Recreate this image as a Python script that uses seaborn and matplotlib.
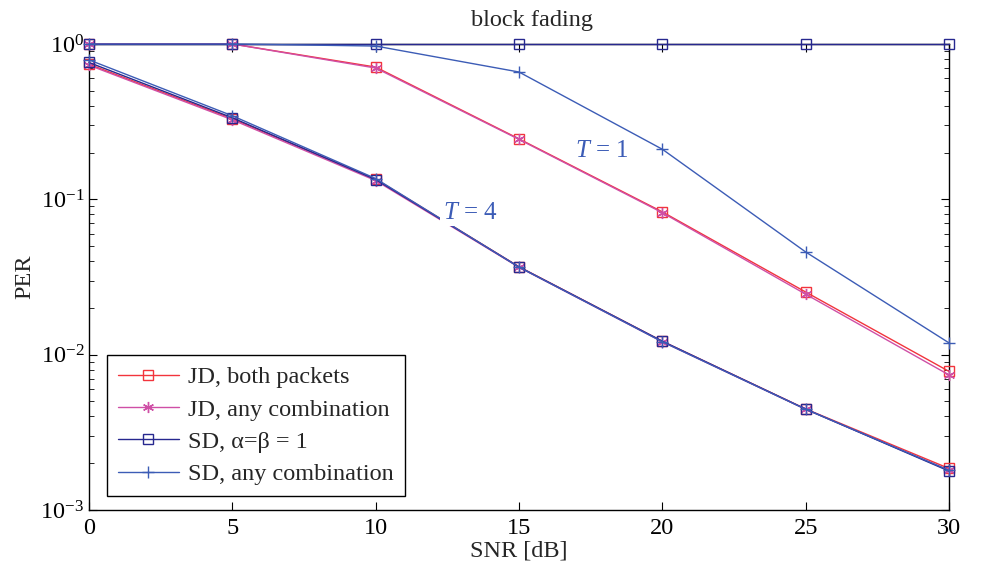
import numpy as np
import pandas as pd
import matplotlib
matplotlib.use("Agg")
import matplotlib.pyplot as plt
import seaborn as sns

# SNR axis
snr = [0, 5, 10, 15, 20, 25, 30]

# T = 1
jd_both_t1 = [1.0, 1.0, 0.71, 0.245, 0.083, 0.0253, 0.0078]
jd_any_t1 = [1.0, 1.0, 0.70, 0.243, 0.082, 0.0245, 0.0074]
sd_ab_t1 = [1.0, 1.0, 1.0, 1.0, 1.0, 1.0, 1.0]
sd_any_t1 = [1.0, 1.0, 0.97, 0.66, 0.21, 0.0458, 0.0119]

# T = 4
jd_both_t4 = [0.74, 0.33, 0.135, 0.0368, 0.0122, 0.00447, 0.00185]
jd_any_t4 = [0.73, 0.325, 0.132, 0.0365, 0.0121, 0.00445, 0.00180]
sd_ab_t4 = [0.76, 0.335, 0.134, 0.0367, 0.0122, 0.00446, 0.00178]
sd_any_t4 = [0.79, 0.345, 0.136, 0.0366, 0.0121, 0.00445, 0.00180]

sns.set_style("ticks")
plt.rcParams['font.family'] = ['Liberation Serif', 'DejaVu Serif']
plt.rcParams['mathtext.fontset'] = 'custom'
plt.rcParams['mathtext.rm'] = 'Liberation Serif'
plt.rcParams['mathtext.it'] = 'Liberation Serif:italic'
plt.rcParams['xtick.direction'] = 'in'
plt.rcParams['ytick.direction'] = 'in'

fig = plt.figure(figsize=(9.89, 5.69), dpi=100)
ax = fig.add_axes([0.09, 0.1037, 0.8696, 0.819])

series = [
    ("JD, both packets", jd_both_t1, jd_both_t4, "#f2343c", "s", 7),
    ("JD, any combination", jd_any_t1, jd_any_t4, "#cf4fa6", (6, 2, 0), 8),
    ("SD, α=β = 1", sd_ab_t1, sd_ab_t4, "#27288f", "s", 7),
    ("SD, any combination", sd_any_t1, sd_any_t4, "#3c5cb6", "+", 9),
]

for name, v1, v4, col, mk, ms in series:
    for vals, lab in ((v1, name), (v4, None)):
        df = pd.DataFrame({"SNR": snr, "PER": vals})
        sns.lineplot(data=df, x="SNR", y="PER", ax=ax, color=col, marker=mk,
                     markersize=ms, markerfacecolor="none",
                     markeredgecolor=col, markeredgewidth=1.0, linewidth=1.0,
                     label=lab, legend=False, clip_on=False, zorder=3)

ax.set_yscale("log")
ax.set_xlim(0, 30)
ax.set_ylim(1e-3, 1e0)
ax.set_xticks(snr)
ax.tick_params(which="both", top=True, right=True, labelsize=17.5, colors="black")
ax.tick_params(axis="x", pad=6)
ax.tick_params(which="major", length=6)
ax.tick_params(which="minor", length=3.5)
for sp in ax.spines.values():
    sp.set_color("black")
    sp.set_linewidth(1.0)

ax.set_xlabel("SNR [dB]", fontsize=17.5, labelpad=1)
ax.set_ylabel("PER", fontsize=17.5, labelpad=4)
ax.set_title("block fading", fontsize=17.5, pad=13, x=0.515)

ax.text(13.3, 0.082, "$T$ = 4", color="#3c5cb6", fontsize=18, ha="center", va="center",
        zorder=4, bbox=dict(facecolor="white", edgecolor="none", pad=2))
ax.text(17.9, 0.205, "$T$ = 1", color="#3c5cb6", fontsize=18, ha="center", va="center")

leg = ax.legend(loc="lower left", bbox_to_anchor=(0.021, 0.03), fontsize=17.5, frameon=True,
                fancybox=False, edgecolor="black", framealpha=1, handlelength=2.5,
                borderpad=0.45, labelspacing=0.42, handletextpad=0.4, borderaxespad=0)
leg.get_frame().set_linewidth(1.0)
leg.set_zorder(5)

fig.savefig("out.png", dpi=100)
